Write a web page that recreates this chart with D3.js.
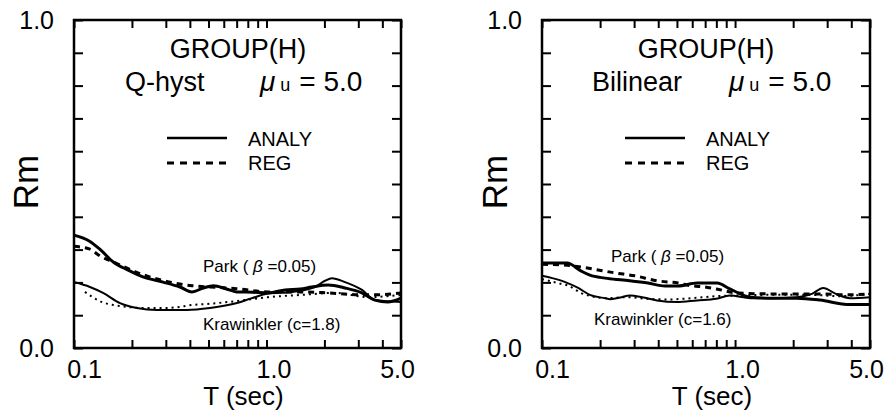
<!DOCTYPE html>
<html>
<head>
<meta charset="utf-8">
<script src="https://cdn.jsdelivr.net/npm/d3@7"></script>
<style>
  body { margin: 0; background: white; }
  text { font-family: "Liberation Sans", Arial, sans-serif; fill: black; }
</style>
</head>
<body>
<div id="vis"></div>
<script>
// tick values / labels
let periodMajor = [0.1, 1.0, 5.0];
let periodLabels = ['0.1', '1.0', '5.0'];
let periodMinor = [0.2, 0.3, 0.4, 0.5, 0.6, 0.7, 0.8, 0.9, 2, 3, 4];
let rmTicks = [0, 0.1, 0.2, 0.3, 0.4, 0.5, 0.6, 0.7, 0.8, 0.9, 1.0];

// Q-hyst panel  [T (sec), Rm]
let qParkAnaly = [[0.1, 0.344], [0.121, 0.325], [0.137, 0.30], [0.16, 0.262], [0.19, 0.238], [0.23, 0.216],
  [0.29, 0.201], [0.355, 0.186], [0.41, 0.171], [0.47, 0.183], [0.53, 0.19], [0.62, 0.18], [0.70, 0.171],
  [0.85, 0.17], [1.02, 0.168], [1.25, 0.177], [1.5, 0.18], [1.72, 0.186], [2.09, 0.192], [2.56, 0.183],
  [3.13, 0.168], [3.66, 0.146], [4.27, 0.14], [5.0, 0.152]];
let qParkReg = [[0.1, 0.31], [0.12, 0.302], [0.137, 0.28], [0.16, 0.262], [0.23, 0.223], [0.355, 0.195],
  [0.41, 0.19], [0.51, 0.186], [0.70, 0.181], [1.02, 0.171], [1.53, 0.171], [2.09, 0.168], [3.13, 0.162],
  [3.79, 0.162], [5.0, 0.168]];
let qKrawAnaly = [[0.1, 0.201], [0.121, 0.186], [0.1415, 0.168], [0.1734, 0.137], [0.2125, 0.122], [0.27, 0.116],
  [0.386, 0.116], [0.509, 0.122], [0.703, 0.137], [0.841, 0.152], [1.018, 0.166], [1.356, 0.171], [1.786, 0.186],
  [2.013, 0.205], [2.188, 0.213], [2.557, 0.201], [3.135, 0.177], [3.66, 0.146], [5.0, 0.14]];
let qKrawReg = [[0.114, 0.171], [0.125, 0.155], [0.14, 0.14], [0.16, 0.131], [0.19, 0.125], [0.23, 0.122],
  [0.29, 0.122], [0.355, 0.125], [0.386, 0.129], [0.509, 0.135], [0.703, 0.143], [1.02, 0.155], [1.53, 0.162],
  [2.27, 0.168], [3.37, 0.155], [5.0, 0.162]];

// Bilinear panel
let bParkAnaly = [[0.1, 0.259], [0.135, 0.259], [0.159, 0.235], [0.177, 0.222], [0.212, 0.213], [0.263, 0.207],
  [0.354, 0.198], [0.434, 0.189], [0.507, 0.189], [0.635, 0.198], [0.807, 0.198], [0.94, 0.18], [1.2, 0.155],
  [1.52, 0.152], [2.09, 0.152], [2.76, 0.146], [3.8, 0.133], [5.0, 0.133]];
let bParkReg = [[0.1, 0.255], [0.135, 0.252], [0.159, 0.247], [0.195, 0.238], [0.239, 0.229], [0.303, 0.22],
  [0.394, 0.205], [0.507, 0.198], [0.59, 0.19], [0.70, 0.186], [0.80, 0.18], [1.02, 0.168], [1.5, 0.165],
  [2.09, 0.165], [2.76, 0.165], [3.8, 0.162], [5.0, 0.165]];
let bKrawAnaly = [[0.1, 0.22], [0.113, 0.213], [0.132, 0.201], [0.154, 0.183], [0.177, 0.162], [0.212, 0.152],
  [0.225, 0.149], [0.25, 0.153], [0.286, 0.16], [0.33, 0.155], [0.394, 0.145], [0.50, 0.14], [0.635, 0.145],
  [0.80, 0.15], [0.94, 0.16], [1.2, 0.152], [1.5, 0.152], [2.09, 0.155], [2.5, 0.165], [2.86, 0.183],
  [3.33, 0.165], [3.94, 0.152], [5.0, 0.155]];
let bKrawReg = [[0.1, 0.21], [0.121, 0.198], [0.137, 0.19], [0.159, 0.168], [0.19, 0.155], [0.212, 0.152],
  [0.28, 0.155], [0.35, 0.15], [0.45, 0.148], [0.6, 0.152], [0.8, 0.158], [1.0, 0.16], [1.5, 0.162],
  [2.5, 0.162], [3.5, 0.158], [5.0, 0.165]];

let plotTop = 20, plotBottom = 348;

let panels = [
  { left: 74, right: 401, model: 'Q-hyst', modelX: 125, muX: 260, titleX: 238, legendX: 167, rmX: 38,
    parkPos: [203, 272], krawPos: [203, 330], krawText: 'Krawinkler (c=1.8)',
    series: [qParkAnaly, qParkReg, qKrawAnaly, qKrawReg] },
  { left: 542, right: 870, model: 'Bilinear', modelX: 592, muX: 729, titleX: 706, legendX: 625, rmX: 507,
    parkPos: [611, 262], krawPos: [594, 325], krawText: 'Krawinkler (c=1.6)',
    series: [bParkAnaly, bParkReg, bKrawAnaly, bKrawReg] }
];

// park analy, park reg, kraw analy, kraw reg
let lineStyles = [
  { width: 3, dash: null },
  { width: 3, dash: '6,5' },
  { width: 2, dash: null },
  { width: 2, dash: '2,4' }
];

let svg = d3.select('#vis')
  .append('svg')
  .attr('width', 888)
  .attr('height', 417)
  .style('background-color', 'white');

let y = d3.scaleLinear().domain([0, 1]).range([plotBottom, plotTop]);

panels.forEach(p => {
  let x = d3.scaleLog().domain([0.1, 5]).range([p.left, p.right]);
  let g = svg.append('g');

  // curves
  let line = d3.line()
    .x(d => x(d[0]))
    .y(d => y(d[1]))
    .curve(d3.curveMonotoneX);

  p.series.forEach((s, i) => {
    g.append('path')
      .attr('d', line(s))
      .attr('fill', 'none')
      .attr('stroke', 'black')
      .attr('stroke-width', lineStyles[i].width)
      .attr('stroke-dasharray', lineStyles[i].dash)
      .attr('stroke-linejoin', 'round');
  });

  // inward ticks on all four sides
  let allT = periodMajor.concat(periodMinor);
  g.append('g').attr('class', 'ticks').attr('transform', `translate(0,${plotBottom})`)
    .call(d3.axisBottom(x).tickValues(allT).tickSize(-8).tickFormat(() => ''));
  g.append('g').attr('class', 'ticks').attr('transform', `translate(0,${plotTop})`)
    .call(d3.axisTop(x).tickValues(allT).tickSize(-8).tickFormat(() => ''));
  g.append('g').attr('class', 'ticks').attr('transform', `translate(${p.right},0)`)
    .call(d3.axisRight(y).tickValues(rmTicks).tickSize(-9).tickFormat(() => ''));

  let yAxis = g.append('g').attr('transform', `translate(${p.left},0)`)
    .call(d3.axisLeft(y).tickValues(rmTicks).tickSize(-9).tickPadding(20)
      .tickFormat(d => (d === 0 ? '0.0' : d === 1 ? '1.0' : '')));
  yAxis.selectAll('text').attr('font-size', 25).attr('font-family', '"Liberation Sans", Arial, sans-serif');

  let labelShift = [10, 7, -4];
  let xAxis = g.append('g').attr('transform', `translate(0,${plotBottom})`)
    .call(d3.axisBottom(x).tickValues(periodMajor).tickSize(0).tickPadding(12)
      .tickFormat((d, i) => periodLabels[i]));
  xAxis.selectAll('text')
    .attr('font-size', 25)
    .attr('font-family', '"Liberation Sans", Arial, sans-serif')
    .attr('dx', (d, i) => labelShift[i]);

  g.selectAll('.domain').remove();
  g.selectAll('.tick line').attr('stroke', '#000').attr('stroke-width', 2);

  // frame
  g.append('rect')
    .attr('x', p.left).attr('y', plotTop)
    .attr('width', p.right - p.left).attr('height', plotBottom - plotTop)
    .attr('fill', 'none').attr('stroke', 'black').attr('stroke-width', 2.5);

  // axis titles
  g.append('text')
    .attr('x', (p.left + p.right) / 2 + 6).attr('y', 405)
    .attr('text-anchor', 'middle').attr('font-size', 26)
    .text('T (sec)');
  g.append('text')
    .attr('transform', `translate(${p.rmX},182) rotate(-90)`)
    .attr('text-anchor', 'middle').attr('font-size', 35)
    .text('Rm');

  // titles
  g.append('text')
    .attr('x', p.titleX).attr('y', 58)
    .attr('text-anchor', 'middle').attr('font-size', 27)
    .text('GROUP(H)');
  g.append('text')
    .attr('x', p.modelX).attr('y', 91).attr('font-size', 27)
    .text(p.model);
  let mu = g.append('text').attr('x', p.muX).attr('y', 91).attr('font-size', 28);
  mu.append('tspan').attr('font-style', 'italic').text('μ');
  mu.append('tspan').attr('font-size', 18).attr('dx', 5).text('u');
  mu.append('tspan').attr('dx', 9).text('= 5.0');

  // legend
  g.append('line')
    .attr('x1', p.legendX).attr('x2', p.legendX + 60)
    .attr('y1', 138).attr('y2', 138)
    .attr('stroke', 'black').attr('stroke-width', 2.5);
  g.append('line')
    .attr('x1', p.legendX).attr('x2', p.legendX + 60)
    .attr('y1', 163).attr('y2', 163)
    .attr('stroke', 'black').attr('stroke-width', 3).attr('stroke-dasharray', '7,6');
  g.append('text').attr('x', p.legendX + 81).attr('y', 146).attr('font-size', 20).text('ANALY');
  g.append('text').attr('x', p.legendX + 81).attr('y', 170).attr('font-size', 20).text('REG');

  // curve notes
  let park = g.append('text').attr('x', p.parkPos[0]).attr('y', p.parkPos[1]).attr('font-size', 17);
  park.append('tspan').text('Park ( ');
  park.append('tspan').attr('font-style', 'italic').text('β');
  park.append('tspan').text(' =0.05)');
  g.append('text').attr('x', p.krawPos[0]).attr('y', p.krawPos[1]).attr('font-size', 17).text(p.krawText);
});
</script>
</body>
</html>
